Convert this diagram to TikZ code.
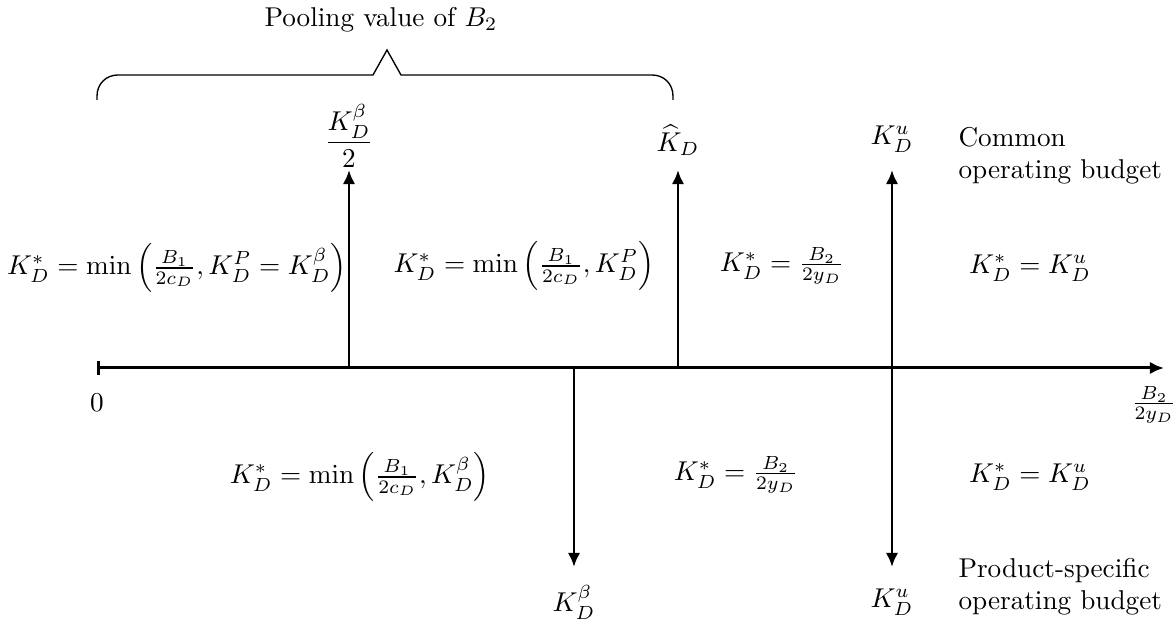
\documentclass[tikz,border=0pt]{standalone}
\usetikzlibrary{arrows.meta}
\begin{document}
\begin{tikzpicture}[x=0.3676pt,y=-0.3676pt,
  arr/.style={line width=1.1pt,-{Latex[length=5.2pt,width=4.6pt]}},
  lbl/.style={inner sep=0pt},
  txt/.style={inner sep=0pt,align=left,anchor=base west},
  bracepath/.style={line width=0.5pt}]
\useasboundingbox (0,0) rectangle (1175,622);
% axis
\coordinate (O) at (97,368);
\coordinate (E) at (1164,368);
\draw[line width=1.1pt,{Bar[width=5pt]}-{Latex[length=5.2pt,width=4.6pt]}] (O) -- (E);
% base points on axis
\coordinate (a1) at (349,368);
\coordinate (a2) at (574,368);
\coordinate (a3) at (678,368);
\coordinate (a4) at (892,368);
% arrow ends
\coordinate (t1) at (349,170);
\coordinate (t3) at (678,170);
\coordinate (t4) at (892,170);
\coordinate (b2) at (574,567);
\coordinate (b4) at (892,567);
\draw[arr] (a1) -- (t1);
\draw[arr] (a3) -- (t3);
\draw[arr] (a4) -- (t4);
\draw[arr] (a2) -- (b2);
\draw[arr] (a4) -- (b4);
% labels at arrow ends
\node[lbl] (l1) at (349,136) {$\displaystyle\frac{K_D^{\beta}}{2}$};
\node[lbl] (l3) at (678,140) {$\widehat{K}_D$};
\node[lbl] (l4) at (892,139) {$K_D^u$};
\node[lbl] (l2) at (574,602) {$K_D^{\beta}$};
\node[lbl] (l5) at (892,602) {$K_D^u$};
\node[lbl] (zero) at (97,403) {$0$};
\node[lbl] (xl) at (1154,405) {$\frac{B_2}{2y_D}$};
% side texts (base = baseline of last line)
\node[txt] (common) at (958,179) {Common\\operating budget};
\node[txt] (prod) at (958,610) {Product-specific\\operating budget};
% region formulas above
\node[lbl] (f1) at (177,268) {$K_D^* = \min\left(\frac{B_1}{2c_D}, K_D^P = K_D^{\beta}\right)$};
\node[lbl] (f2) at (524,266) {$K_D^* = \min\left(\frac{B_1}{2c_D}, K_D^P\right)$};
\node[lbl] (f3) at (782,266) {$K_D^* = \frac{B_2}{2y_D}$};
\node[lbl] (f4) at (1030,268) {$K_D^* = K_D^u$};
% region formulas below
\node[lbl] (g1) at (360,477) {$K_D^* = \min\left(\frac{B_1}{2c_D}, K_D^{\beta}\right)$};
\node[lbl] (g2) at (736,475) {$K_D^* = \frac{B_2}{2y_D}$};
\node[lbl] (g3) at (1030,477) {$K_D^* = K_D^u$};
% brace
\coordinate (bl) at (97,100);
\coordinate (br) at (673,100);
\coordinate (bp) at (387,50);
\draw[bracepath] (bl) -- (97,96) .. controls (97,84) and (106,75) .. (118,75)
  -- (373,75) -- (bp) -- (401,75) -- (652,75)
  .. controls (664,75) and (673,84) .. (673,96) -- (br);
\node[lbl] (pool) at (381,20) {Pooling value of $B_2$};
\end{tikzpicture}
\end{document}
